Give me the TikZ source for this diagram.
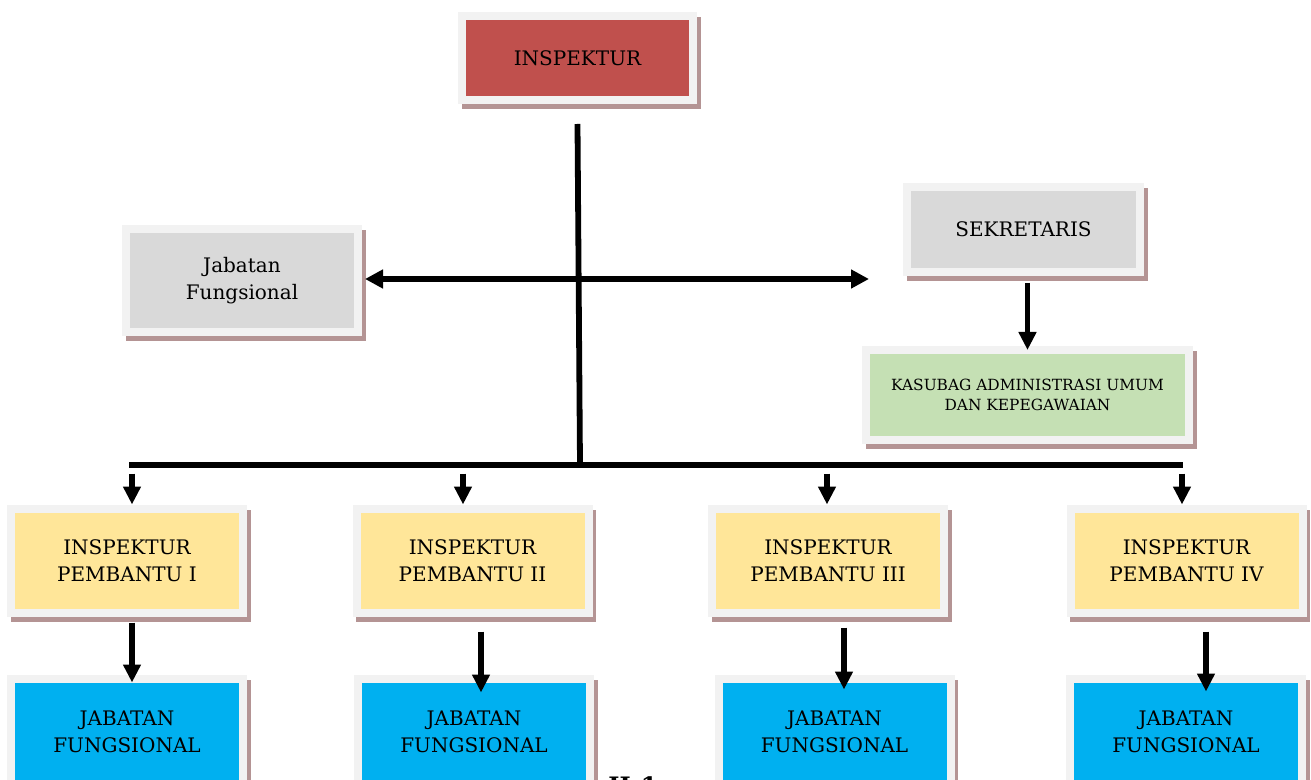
\documentclass[tikz,border=0pt]{standalone}
\usepackage{fontspec}
\setmainfont{DejaVu Serif}
\usetikzlibrary{arrows.meta,calc}

\definecolor{framegray}{HTML}{F2F2F2}
\definecolor{shadowrose}{HTML}{B49494}
\definecolor{headred}{HTML}{C0504D}
\definecolor{staffgray}{HTML}{D9D9D9}
\definecolor{adminsgreen}{HTML}{C5E0B4}
\definecolor{deputyyellow}{HTML}{FFE699}
\definecolor{fungsblue}{HTML}{00B0F0}

\tikzset{
  unit/.style={draw=framegray, line width=4pt, inner sep=0pt, align=center,
    minimum width=116pt, minimum height=52pt,
    font=\fontsize{10}{13.6}\selectfont,
    preaction={fill=shadowrose, draw=shadowrose, line width=4pt,
      transform canvas={xshift=1.75pt,yshift=-2.5pt}}},
  bar/.style={line width=2.9pt},
  arr/.style={line width=2.9pt, -{Triangle[length=9pt,width=8.5pt]}},
  biarr/.style={line width=2.6pt, {Triangle[length=9pt,width=9pt]}-{Triangle[length=9pt,width=9pt]}}
}

\begin{document}
\begin{tikzpicture}[x=0.5pt,y=-0.5pt]

\path[use as bounding box, clip] (0,0) rectangle (1311,780);

\node[unit, fill=headred, minimum width=115.5pt, minimum height=42pt] (insp) at (577.5,58) {INSPEKTUR};
\node[unit, fill=staffgray, minimum height=51.5pt] (jf0) at (242,280.5) {Jabatan\\Fungsional};
\node[unit, fill=staffgray, minimum width=116.5pt, minimum height=42.5pt] (sek) at (1023.5,229.5) {SEKRETARIS};
\node[unit, fill=adminsgreen, minimum width=161.5pt, minimum height=45pt, font=\fontsize{7.7}{10}\selectfont] (kas) at (1027.5,395) {KASUBAG ADMINISTRASI UMUM\\DAN KEPEGAWAIAN};

\node[unit, fill=deputyyellow] (ip1) at (127,560.5) {INSPEKTUR\\PEMBANTU I};
\node[unit, fill=deputyyellow] (ip2) at (472.5,560.5) {INSPEKTUR\\PEMBANTU II};
\node[unit, fill=deputyyellow] (ip3) at (828,560.5) {INSPEKTUR\\PEMBANTU III};
\node[unit, fill=deputyyellow] (ip4) at (1186.5,560.5) {INSPEKTUR\\PEMBANTU IV};

\node[unit, fill=fungsblue, minimum height=53pt] (jf1) at (127,731.5) {JABATAN\\FUNGSIONAL};
\node[unit, fill=fungsblue, minimum height=53pt] (jf2) at (474,731.5) {JABATAN\\FUNGSIONAL};
\node[unit, fill=fungsblue, minimum height=53pt] (jf3) at (834.5,731.5) {JABATAN\\FUNGSIONAL};
\node[unit, fill=fungsblue, minimum height=53pt] (jf4) at (1186,731.5) {JABATAN\\FUNGSIONAL};

\node[anchor=north west, inner sep=0pt, font=\bfseries\fontsize{12}{14}\selectfont] (pgno) at (608,776) {II-1};

\coordinate (junc) at (580,465);
\coordinate (busL) at (129,465);
\coordinate (busR) at (1183,465);
\coordinate (sekL) at (869,279);

\draw[bar] ([yshift=-10pt]insp.south) -- (junc);
\draw[biarr] ([xshift=1.5pt,yshift=0.75pt]jf0.east) -- (sekL);
\draw[arr] ([yshift=-3.5pt]sek.south -| kas.north) -- ([yshift=-2pt]kas.north);
\draw[bar] (busL) -- (busR);

\foreach \n/\dx in {1/5, 2/-9.5, 3/-1, 4/-4.5}
  \draw[arr] ($(ip\n.north)+(\dx,-31)$) -- ($(ip\n.north)+(\dx,0)$);

\foreach \n/\dx/\ya/\yb in {1/5/6/8, 2/8.5/15/18, 3/16/11/15, 4/19.5/15/17}
  \draw[arr] ($(ip\n.south)+(\dx,\ya)$) -- ($(ip\n.south |- jf\n.north)+(\dx,\yb)$);

\end{tikzpicture}
\end{document}
